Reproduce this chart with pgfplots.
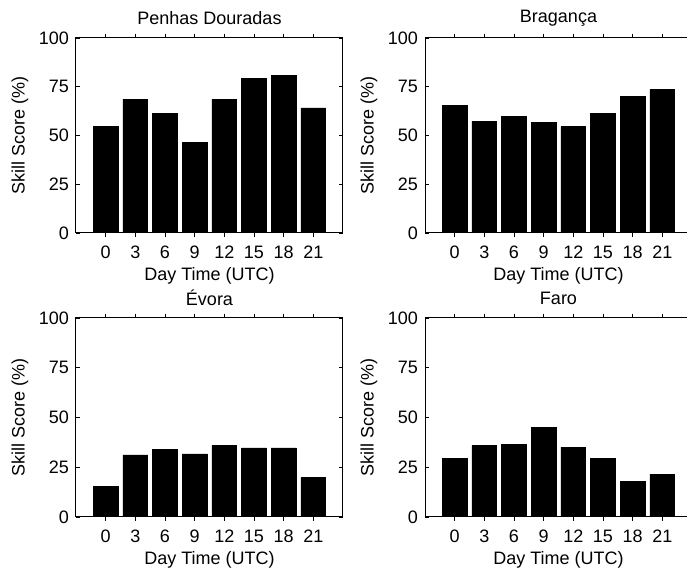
\documentclass[border=0pt]{standalone}
\usepackage{fontspec}
\setmainfont{Liberation Sans}
\usepackage{pgfplots}
\pgfplotsset{compat=1.18}

\pgfplotsset{
  skill/.style={
    scale only axis, width=133.5pt,
    anchor=south west,
    xmin=-1, xmax=8, ymin=0, ymax=100,
    xtick={0,...,7}, xticklabels={0,3,6,9,12,15,18,21},
    ytick={0,25,50,75,100},
    major tick length=2pt,
    tick style={black, line width=0.4pt},
    axis line style={line width=0.5pt},
    font=\fontsize{9}{10.8}\selectfont,
    /pgf/number format/assume math mode=true,
    xlabel={Day Time (UTC)}, ylabel={Skill Score (\%)},
    xticklabel style={yshift=-1pt},
    every axis x label/.style={at={(axis description cs:0.5,0)}, yshift=-21.5pt, anchor=center},
    every axis y label/.style={at={(axis description cs:0,0.5)}, xshift=-28pt, rotate=90, anchor=center},
    every axis title/.style={at={(axis description cs:0.5,1)}, yshift=10pt, anchor=center},
    ybar, bar width=0.84, bar shift=0pt,
  },
  skillbar/.style={fill=black, draw=black, line width=0.3pt},
}

\begin{document}
\begin{tikzpicture}
\useasboundingbox (0,0) rectangle (343.5pt,285.5pt);
\clip (0,0) rectangle (343.5pt,285.5pt);

\begin{axis}[skill, at={(38pt,169pt)}, height=97.5pt, title={Penhas Douradas}]
\addplot[skillbar] coordinates {(0,54.7) (1,68.7) (2,61.2) (3,46.5) (4,68.7) (5,79.3) (6,80.7) (7,64.1)};
\end{axis}

\begin{axis}[skill, at={(212.5pt,169pt)}, height=97.5pt, title={Bragança}]
\addplot[skillbar] coordinates {(0,65.6) (1,57.4) (2,59.7) (3,56.9) (4,54.5) (5,61.2) (6,69.9) (7,73.5)};
\end{axis}

\begin{axis}[skill, at={(38pt,27pt)}, height=99.5pt, title={Évora}]
\addplot[skillbar] coordinates {(0,15.4) (1,31.2) (2,34.0) (3,31.7) (4,36.0) (5,34.7) (6,34.7) (7,19.8)};
\end{axis}

\begin{axis}[skill, at={(212.5pt,27pt)}, height=99.5pt, title={Faro}]
\addplot[skillbar] coordinates {(0,29.4) (1,35.8) (2,36.6) (3,45.2) (4,35.1) (5,29.4) (6,18.0) (7,21.5)};
\end{axis}
\end{tikzpicture}
\end{document}
